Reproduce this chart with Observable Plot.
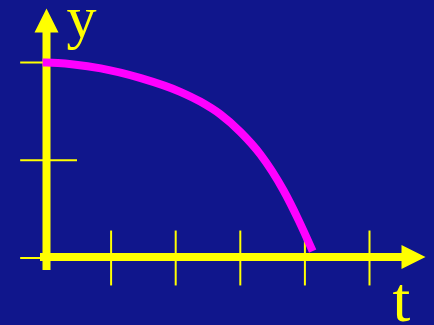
<!DOCTYPE html>
<html>
<head>
<meta charset="utf-8">
<script src="https://cdn.jsdelivr.net/npm/d3@7"></script>
<script src="https://cdn.jsdelivr.net/npm/@observablehq/plot@0.6"></script>
<style>
  html, body { margin: 0; padding: 0; background: #10168c; }
  #chart svg { display: block; }
</style>
</head>
<body>
<div id="chart"></div>
<script>
// Curve data (t, y)
const tValues = [-0.06, 0, 0.42, 0.84, 1.46, 2.07, 2.38, 2.69, 3.0, 3.31, 3.67, 3.9, 4.12];
const yValues = [2.0, 2.0, 1.98, 1.94, 1.84, 1.70, 1.60, 1.47, 1.29, 1.06, 0.69, 0.39, 0.07];
const xTicks = [1, 2, 3, 4, 5];
const yTicks = [0, 1, 2];
const axisLabels = ["y", "t"];

const curve = tValues.map((t, i) => ({t, y: yValues[i]}));

const yellow = "#ffff00";
const magenta = "#ff00ff";

// Isosceles arrowhead symbol, tip at origin, pointing up
const arrowHead = {
  draw(ctx) {
    const w = 24, h = 24;
    ctx.moveTo(0, 0);
    ctx.lineTo(w / 2, h);
    ctx.lineTo(-w / 2, h);
    ctx.closePath();
  }
};

const chart = Plot.plot({
  width: 434,
  height: 325,
  margin: 0,
  style: {background: "#10168c", overflow: "visible"},
  x: {domain: [-0.7121, 6.0062], axis: null},
  y: {domain: [-0.6905, 2.6343], axis: null},
  marks: [
    // tick marks
    Plot.ruleX(xTicks, {y1: -0.286, y2: 0.276, stroke: yellow, strokeWidth: 2}),
    Plot.ruleY(yTicks, {x1: -0.40, x2: 0.48, stroke: yellow, strokeWidth: 2}),
    // axes
    Plot.ruleX([0], {y1: -0.128, y2: 2.31, stroke: yellow, strokeWidth: 8}),
    Plot.ruleY([0.01], {x1: -0.093, x2: 5.52, stroke: yellow, strokeWidth: 8}),
    Plot.dot([0], {x: 0, y: 2.552, symbol: arrowHead, fill: yellow, stroke: "none"}),
    Plot.dot([0], {x: 5.867, y: 0.01, symbol: arrowHead, fill: yellow, stroke: "none", rotate: 90}),
    // curve
    Plot.line(curve, {x: "t", y: "y", curve: "monotone-x", stroke: magenta, strokeWidth: 8, strokeLinecap: "butt"}),
    // labels
    Plot.text([axisLabels[0]], {x: 0.31, y: 2.265, text: d => d, fill: yellow, fontSize: 60,
      fontFamily: "Liberation Serif", textAnchor: "start", lineAnchor: "bottom"}),
    Plot.text([axisLabels[1]], {x: 5.356, y: -0.64, text: d => d, fill: yellow, fontSize: 64,
      fontFamily: "Liberation Serif", textAnchor: "start", lineAnchor: "bottom"})
  ]
});
document.getElementById("chart").appendChild(chart);
</script>
</body>
</html>
